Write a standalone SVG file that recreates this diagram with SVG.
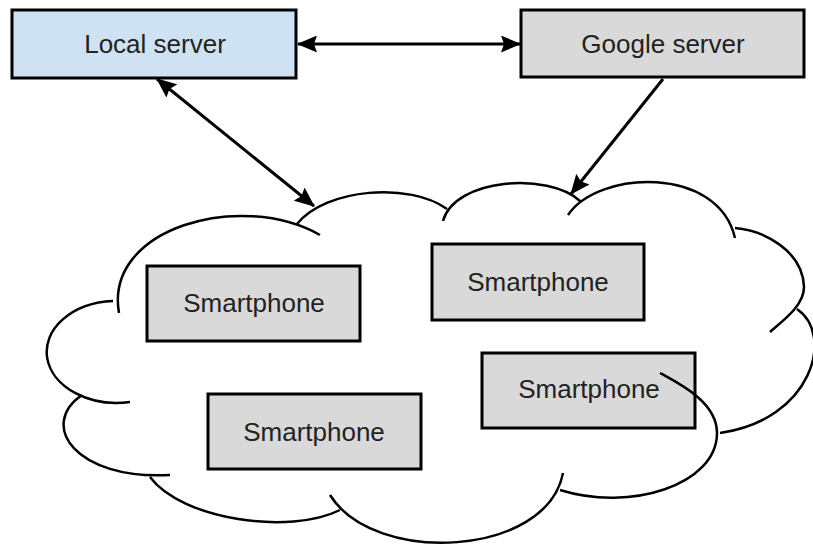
<svg xmlns="http://www.w3.org/2000/svg" width="813" height="545" viewBox="0 0 813 545">
<style>
.box{stroke:#000;stroke-width:3}
.srv{fill:#cfe2f3}
.gry{fill:#d9d9d9}
.lbl{font-family:"Liberation Sans",Arial,sans-serif;font-size:26px;fill:#222;text-anchor:middle}
.con{stroke:#000;stroke-width:3;fill:none}
.cloud{stroke:#000;stroke-width:2.5;fill:none;stroke-linecap:butt}
</style>
<defs>
<marker id="ah" viewBox="0 0 20 17" refX="19" refY="8.5" markerWidth="20" markerHeight="17" markerUnits="userSpaceOnUse" orient="auto-start-reverse">
<path d="M0,0 L20,8.5 L0,17 L3,8.5 z" fill="#000"/>
</marker>
</defs>
<rect width="813" height="545" fill="#fff"/>
<g id="node-local">
<rect class="box srv" x="12" y="10" width="284" height="68"/>
<text class="lbl" x="155" y="53">Local server</text>
</g>
<g id="node-google">
<rect class="box gry" x="521" y="10" width="283" height="67"/>
<text class="lbl" x="663" y="53">Google server</text>
</g>
<g id="node-phone1">
<rect class="box gry" x="147" y="266" width="213" height="75"/>
<text class="lbl" x="254" y="312">Smartphone</text>
</g>
<g id="node-phone2">
<rect class="box gry" x="208" y="394" width="213" height="75"/>
<text class="lbl" x="314" y="441">Smartphone</text>
</g>
<g id="node-phone3">
<rect class="box gry" x="432" y="244" width="212" height="76"/>
<text class="lbl" x="538" y="291">Smartphone</text>
</g>
<g id="node-phone4">
<rect class="box gry" x="482" y="353" width="213" height="75"/>
<text class="lbl" x="589" y="398">Smartphone</text>
</g>
<g id="cloud">
<path class="cloud" d="
M119,313 C104,228 240,190 320,235
M297,224 C326,188 410,182 447,209
M443,221 C455,178 548,172 580,201
M568,215 C598,170 718,165 735,238
M735,228 C762,230 803,250 804,287 C804,305 785,319 770,332
M797,309 C835,335 812,420 720,433
M660,373 C682,385 717,403 717,433 C717,485 630,512 560,490
M330,495 C374,566 547,557 563,473
M150,477 C182,520 290,535 340,510
M82,395 C38,425 75,480 170,475
M113,301 A70,51 0 1 0 130,402"/>
</g>
<g id="connectors">
<line class="con" x1="298" y1="44" x2="520" y2="44" marker-start="url(#ah)" marker-end="url(#ah)"/>
<line class="con" x1="157" y1="79" x2="314" y2="206" marker-start="url(#ah)" marker-end="url(#ah)"/>
<line class="con" x1="663" y1="79" x2="571" y2="194" marker-end="url(#ah)"/>
</g>
</svg>
